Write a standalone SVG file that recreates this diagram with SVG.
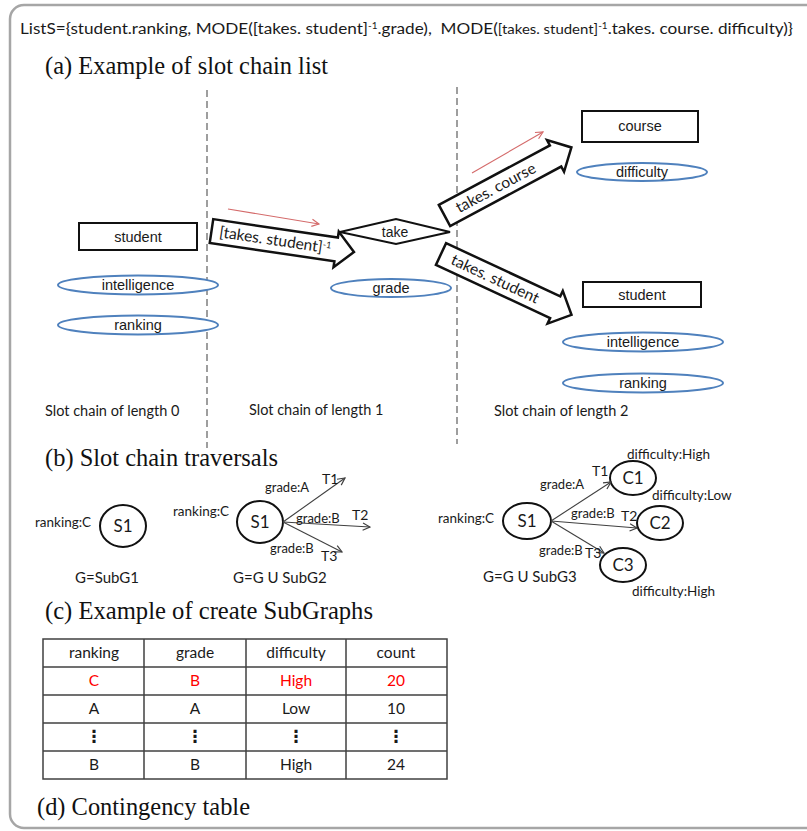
<svg xmlns="http://www.w3.org/2000/svg" width="807" height="831" viewBox="0 0 807 831">
<style>
.cal{font-family:Lato,"Open Sans","Liberation Sans",sans-serif;fill:#1a1a1a}
.ari{font-family:"Liberation Sans",Arial,sans-serif;fill:#1a1a1a}
.ser{font-family:"Liberation Serif","Times New Roman",serif;fill:#111;font-size:24.5px}
.box{fill:#fff;stroke:#111;stroke-width:2}
.ell{fill:#fff;stroke:#4F81BD;stroke-width:2}
.blk{fill:#fff;stroke:#111;stroke-width:2.5;stroke-linejoin:miter}
.circ{fill:#fff;stroke:#111;stroke-width:2}
.dash{stroke:#7f7f7f;stroke-width:1.5;stroke-dasharray:7 4;fill:none}
.gar{stroke:#404040;stroke-width:1.1;fill:none;marker-end:url(#mg)}
.rar{stroke:#D46A6A;stroke-width:1.1;fill:none;marker-end:url(#mr)}
.grid{stroke:#404040;stroke-width:1.5;fill:none}
.tc{text-anchor:middle}
.red{fill:#FF0000}
</style>
<defs>
<marker id="mg" viewBox="0 0 10 10" refX="9" refY="5" markerWidth="9" markerHeight="9" orient="auto" markerUnits="userSpaceOnUse"><path d="M1,1 L9,5 L1,9" fill="none" stroke="#404040" stroke-width="1.3"/></marker>
<marker id="mr" viewBox="0 0 10 10" refX="9" refY="5" markerWidth="9" markerHeight="9" orient="auto" markerUnits="userSpaceOnUse"><path d="M1,1 L9,5 L1,9" fill="none" stroke="#D46A6A" stroke-width="1.3"/></marker>
<path id="blockarrow" d="M0,-12 L126,-12 L126,-18 L144,0 L126,18 L126,12 L0,12 Z"/>
</defs>
<rect x="0" y="0" width="807" height="831" fill="#fff"/>
<rect x="10" y="5" width="840" height="823" rx="14" ry="14" fill="none" stroke="#a6a6a6" stroke-width="2.5"/>

<text class="cal" x="20" y="34" font-size="15.5" textLength="773" lengthAdjust="spacingAndGlyphs">ListS={student.ranking, MODE([takes. student]<tspan font-size="9" baseline-shift="super">-1</tspan>.grade),&#160; MODE(<tspan font-size="13.5">[takes. student]</tspan><tspan font-size="9" baseline-shift="super">-1</tspan>.takes. course. difficulty)}</text>

<text class="ser" x="45" y="74" textLength="283" lengthAdjust="spacingAndGlyphs">(a) Example of slot chain list</text>

<g id="dividers">
<line class="dash" x1="207" y1="90" x2="207" y2="448"/>
<line class="dash" x1="457" y1="87" x2="457" y2="444"/>
</g>

<g id="student0">
<rect class="box" x="79" y="223" width="118" height="27"/>
<text class="ari tc" x="138" y="242" font-size="14.5">student</text>
</g>
<g id="intelligence0">
<ellipse class="ell" cx="138" cy="285" rx="80" ry="9.5"/>
<text class="ari tc" x="138" y="290" font-size="14.5">intelligence</text>
</g>
<g id="ranking0">
<ellipse class="ell" cx="138" cy="325" rx="80" ry="9.5"/>
<text class="ari tc" x="138" y="330" font-size="14.5">ranking</text>
</g>

<g id="take">
<path class="box" d="M340,232 L396,219 L450,232 L396,244 Z"/>
<text class="ari tc" x="395" y="237" font-size="14">take</text>
</g>
<g id="grade">
<ellipse class="ell" cx="391" cy="288" rx="60" ry="9"/>
<text class="ari tc" x="391" y="293" font-size="14.5">grade</text>
</g>

<g id="course">
<rect class="box" x="582" y="111" width="116" height="31"/>
<text class="ari tc" x="640" y="131" font-size="14.5">course</text>
</g>
<g id="difficulty">
<ellipse class="ell" cx="642" cy="172" rx="65" ry="9"/>
<text class="ari tc" x="642" y="177" font-size="14.5">difficulty</text>
</g>
<g id="student2">
<rect class="box" x="583" y="282" width="118" height="25"/>
<text class="ari tc" x="642" y="300" font-size="14.5">student</text>
</g>
<g id="intelligence2">
<ellipse class="ell" cx="643" cy="342" rx="80" ry="9.5"/>
<text class="ari tc" x="643" y="347" font-size="14.5">intelligence</text>
</g>
<g id="ranking2">
<ellipse class="ell" cx="643" cy="383" rx="80" ry="9.5"/>
<text class="ari tc" x="643" y="388" font-size="14.5">ranking</text>
</g>

<g id="connectors-a">
<g transform="translate(211.5,231) rotate(8.4)">
<use href="#blockarrow" class="blk"/>
<text class="cal" x="8" y="5" font-size="15.5">[takes. student]<tspan font-size="9" baseline-shift="super">-1</tspan></text>
</g>
<g transform="translate(444.5,215.5) rotate(-28.2)">
<use href="#blockarrow" class="blk"/>
<text class="cal" x="14" y="5" font-size="15.5">takes. course</text>
</g>
<g transform="translate(441,254) rotate(25)">
<use href="#blockarrow" class="blk"/>
<text class="cal" x="12" y="5" font-size="15.5">takes. student</text>
</g>
<line class="rar" x1="228" y1="209" x2="319" y2="224"/>
<line class="rar" x1="472" y1="173" x2="543" y2="132"/>
</g>

<text class="cal" x="45" y="416" font-size="14.5">Slot chain of length 0</text>
<text class="cal" x="249" y="415" font-size="14.5">Slot chain of length 1</text>
<text class="cal" x="494" y="416" font-size="14.5">Slot chain of length 2</text>

<text class="ser" x="45" y="466" textLength="233" lengthAdjust="spacingAndGlyphs">(b) Slot chain traversals</text>

<g id="b1-S1">
<ellipse class="circ" cx="123" cy="526" rx="23" ry="21"/>
<text class="cal tc" x="123" y="532" font-size="17">S1</text>
</g>
<text class="cal" x="35" y="527" font-size="13.5">ranking:C</text>
<text class="cal" x="75" y="583" font-size="15">G=SubG1</text>

<g id="b2-S1">
<ellipse class="circ" cx="260" cy="522" rx="23" ry="21"/>
<text class="cal tc" x="260" y="528" font-size="17">S1</text>
</g>
<g id="connectors-b2">
<line class="gar" x1="283" y1="522" x2="345" y2="478"/>
<line class="gar" x1="283" y1="522" x2="370" y2="527"/>
<line class="gar" x1="283" y1="522" x2="342" y2="552"/>
</g>
<text class="cal" x="173" y="516" font-size="13.5">ranking:C</text>
<text class="cal" x="265" y="492" font-size="13">grade:A</text>
<text class="cal" x="322" y="484" font-size="14">T1</text>
<text class="cal" x="296" y="523" font-size="13">grade:B</text>
<text class="cal" x="352" y="520" font-size="14">T2</text>
<text class="cal" x="270" y="553" font-size="13">grade:B</text>
<text class="cal" x="321" y="561" font-size="14">T3</text>
<text class="cal" x="233" y="583" font-size="15">G=G U SubG2</text>

<g id="b3-S1">
<ellipse class="circ" cx="527" cy="521" rx="24" ry="18"/>
<text class="cal tc" x="527" y="527" font-size="17">S1</text>
</g>
<g id="b3-C1">
<ellipse class="circ" cx="633" cy="478" rx="23" ry="17"/>
<text class="cal tc" x="633" y="484" font-size="17">C1</text>
</g>
<g id="b3-C2">
<ellipse class="circ" cx="660" cy="523" rx="23" ry="17"/>
<text class="cal tc" x="660" y="529" font-size="17">C2</text>
</g>
<g id="b3-C3">
<ellipse class="circ" cx="623" cy="565" rx="23" ry="17"/>
<text class="cal tc" x="623" y="571" font-size="17">C3</text>
</g>
<g id="connectors-b3">
<line class="gar" x1="551" y1="521" x2="611" y2="482"/>
<line class="gar" x1="551" y1="521" x2="637" y2="528"/>
<line class="gar" x1="551" y1="521" x2="604" y2="553"/>
</g>
<text class="cal" x="627" y="459" font-size="13.5">difficulty:High</text>
<text class="cal" x="652" y="500" font-size="13.5">difficulty:Low</text>
<text class="cal" x="632" y="596" font-size="13.5">difficulty:High</text>
<text class="cal" x="438" y="523" font-size="13.5">ranking:C</text>
<text class="cal" x="540" y="489" font-size="13">grade:A</text>
<text class="cal" x="592" y="476" font-size="14">T1</text>
<text class="cal" x="571" y="518" font-size="13">grade:B</text>
<text class="cal" x="621" y="521" font-size="14">T2</text>
<text class="cal" x="539" y="555" font-size="13">grade:B</text>
<text class="cal" x="585" y="558" font-size="14">T3</text>
<text class="cal" x="483" y="582" font-size="15">G=G U SubG3</text>

<text class="ser" x="45" y="619" textLength="328" lengthAdjust="spacingAndGlyphs">(c) Example of create SubGraphs</text>

<g id="table">
<rect class="grid" x="43" y="639" width="404" height="140"/>
<line class="grid" x1="144" y1="639" x2="144" y2="779"/>
<line class="grid" x1="246" y1="639" x2="246" y2="779"/>
<line class="grid" x1="346" y1="639" x2="346" y2="779"/>
<line class="grid" x1="43" y1="667" x2="447" y2="667"/>
<line class="grid" x1="43" y1="695" x2="447" y2="695"/>
<line class="grid" x1="43" y1="723" x2="447" y2="723"/>
<line class="grid" x1="43" y1="751" x2="447" y2="751"/>
<g class="cal tc" font-size="15.5">
<text x="94" y="658">ranking</text><text x="195" y="658">grade</text><text x="296" y="658">difficulty</text><text x="396" y="658">count</text>
<text class="red" x="94" y="686">C</text><text class="red" x="195" y="686">B</text><text class="red" x="296" y="686">High</text><text class="red" x="396" y="686">20</text>
<text x="94" y="714">A</text><text x="195" y="714">A</text><text x="296" y="714">Low</text><text x="396" y="714">10</text>
<text x="94" y="770">B</text><text x="195" y="770">B</text><text x="296" y="770">High</text><text x="396" y="770">24</text>
</g>
<g font-family="'DejaVu Sans',sans-serif" font-size="17" font-weight="bold" text-anchor="middle" fill="#1a1a1a">
<text x="94" y="742">⋮</text><text x="195" y="742">⋮</text><text x="296" y="742">⋮</text><text x="396" y="742">⋮</text>
</g>
</g>

<text class="ser" x="37" y="815" textLength="213" lengthAdjust="spacingAndGlyphs">(d) Contingency table</text>
</svg>
